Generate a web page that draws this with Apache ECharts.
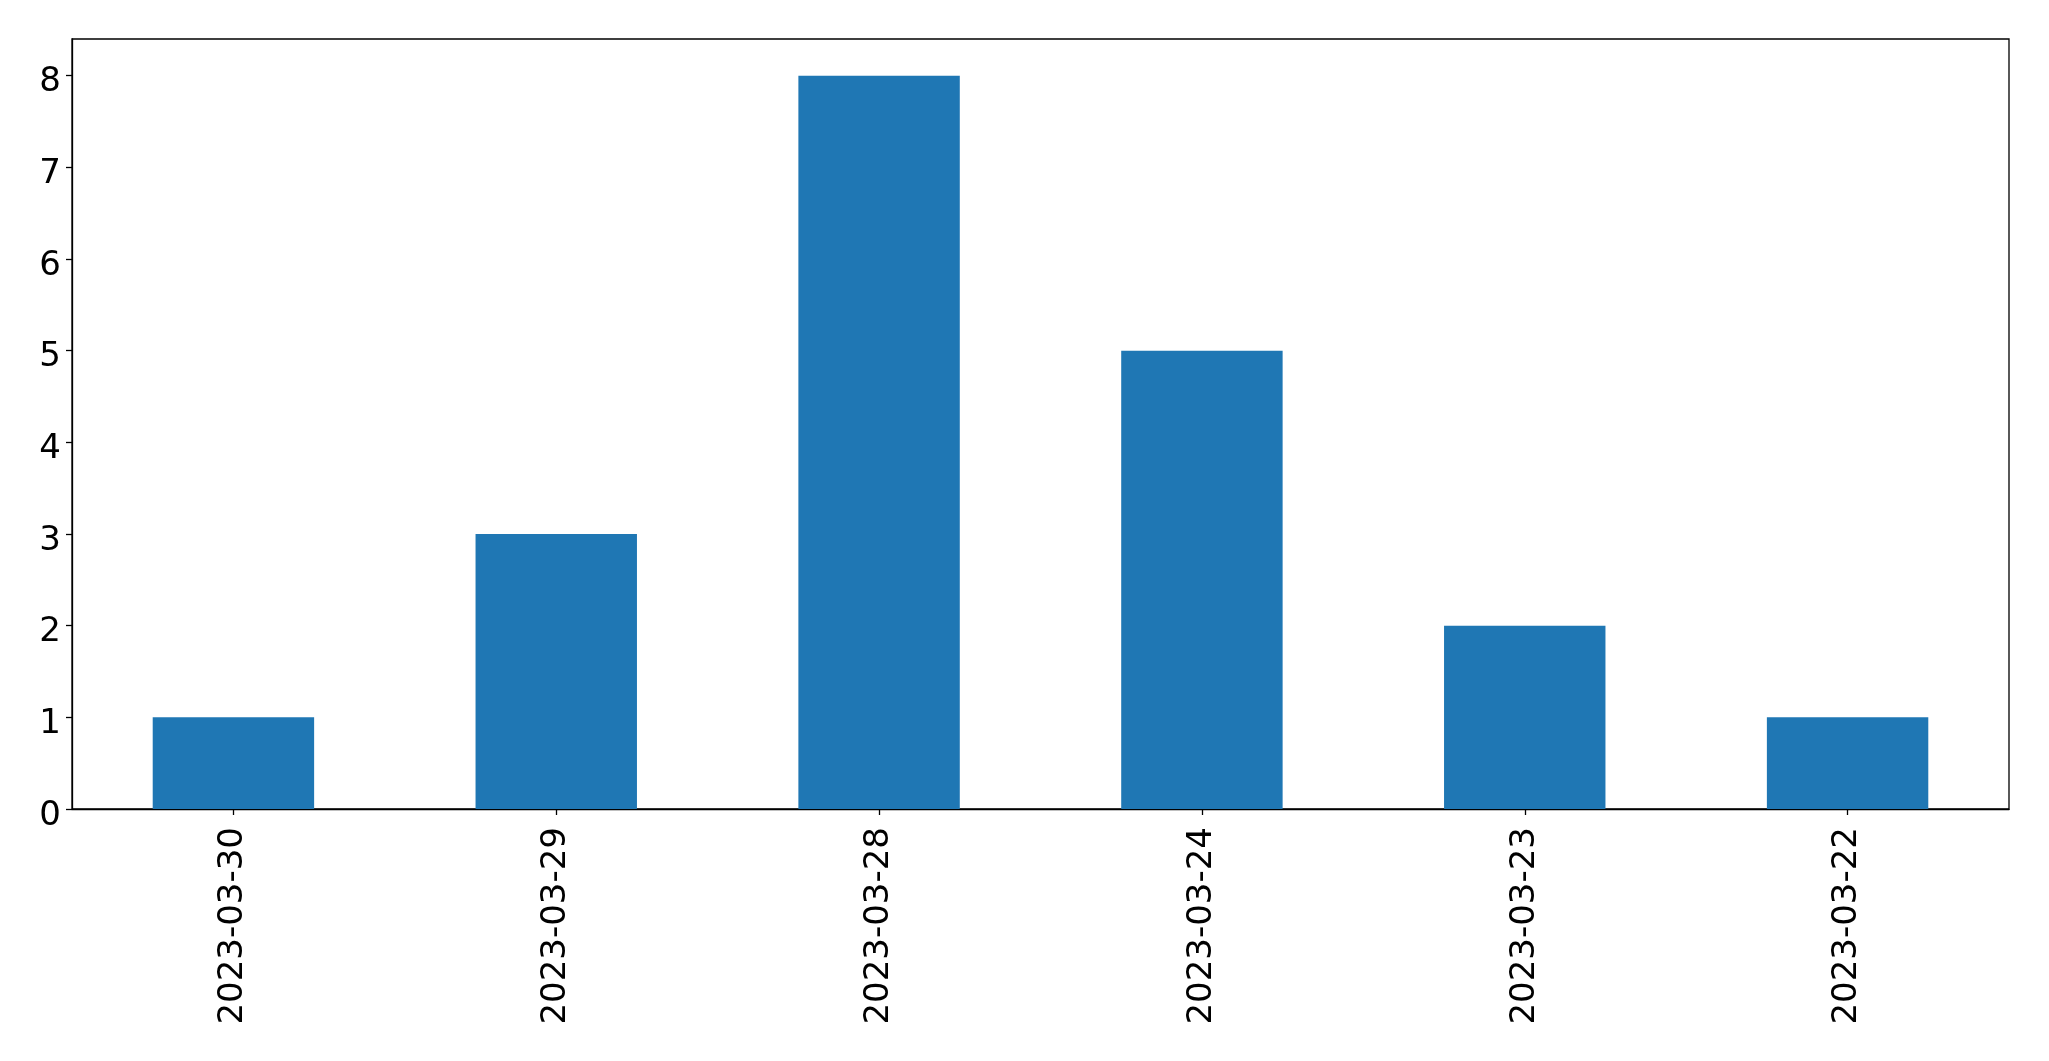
<!DOCTYPE html>
<html>
<head>
<meta charset="utf-8">
<script src="https://cdn.jsdelivr.net/npm/echarts@6/dist/echarts.min.js"></script>
<style>
html,body{margin:0;padding:0;background:#fff;}
#chart{width:2049px;height:1061px;}
</style>
</head>
<body>
<div id="chart"></div>
<script>
const categories = ["2023-03-30", "2023-03-29", "2023-03-28", "2023-03-24", "2023-03-23", "2023-03-22"];
const counts = [1, 3, 8, 5, 2, 1];
const yTicks = [0, 1, 2, 3, 4, 5, 6, 7, 8];

const chart = echarts.init(document.getElementById('chart'));
chart.setOption({
  animation: false,
  backgroundColor: '#ffffff',
  grid: {
    left: 72, top: 39, right: 40, bottom: 252,
    show: true, borderColor: '#000', borderWidth: 1.3, backgroundColor: 'transparent'
  },
  xAxis: {
    type: 'category',
    data: categories,
    boundaryGap: true,
    axisLine: { show: true, lineStyle: { color: '#000', width: 1.3 } },
    axisTick: { show: true, alignWithLabel: true, length: 6, lineStyle: { color: '#000', width: 1.3 } },
    axisLabel: {
      rotate: 90, color: '#000', fontSize: 34, fontFamily: 'DejaVu Sans', margin: 18
    },
    splitLine: { show: false }
  },
  yAxis: {
    type: 'value',
    min: 0, max: 8.4,
    axisLine: { show: true, lineStyle: { color: '#000', width: 1.3 } },
    axisTick: { show: true, length: 6, lineStyle: { color: '#000', width: 1.3 }, customValues: yTicks },
    axisLabel: {
      color: '#000', fontSize: 34, fontFamily: 'DejaVu Sans', margin: 11, customValues: yTicks,
      formatter: '{a|{value}}',
      rich: { a: { color: '#000', fontSize: 34, fontFamily: 'DejaVu Sans', padding: [14, 0, 0, 0] } }
    },
    splitLine: { show: false }
  },
  series: [{
    type: 'bar',
    data: counts,
    barWidth: '50%',
    itemStyle: { color: '#1f77b4' }
  }]
});
</script>
</body>
</html>
